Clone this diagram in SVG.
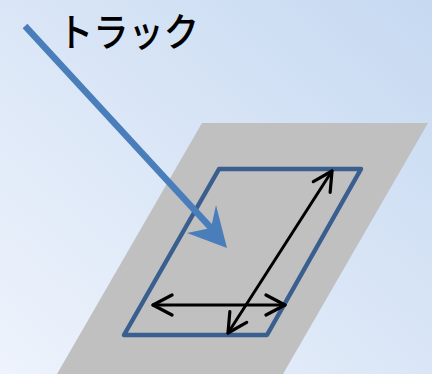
<svg xmlns="http://www.w3.org/2000/svg" width="432" height="374" viewBox="0 0 432 374">
<defs>
<linearGradient id="bg" x1="0" y1="1" x2="1" y2="0">
<stop offset="0" stop-color="#EEF3FC"/>
<stop offset="1" stop-color="#C6D9F1"/>
</linearGradient>
<marker id="open" viewBox="-22 -12 24 24" markerWidth="24" markerHeight="24" refX="0" refY="0" orient="auto-start-reverse" markerUnits="userSpaceOnUse">
<path d="M-19,-10 L0,0 L-19,10" fill="none" stroke="#000" stroke-width="3.2" stroke-linecap="round" stroke-linejoin="round"/>
</marker>
</defs>
<style>
.blk{stroke:#000;stroke-width:3;fill:none;stroke-linecap:round}
.lbl{font-family:"Noto Sans CJK JP","Noto Sans",sans-serif;font-size:39px;font-weight:500;fill:#000}
</style>
<rect width="432" height="374" fill="url(#bg)"/>
<g id="plane">
<polygon points="202,123 428,123 283,374 57,374" fill="#C0C0C0"/>
</g>
<g id="track-area">
<polygon points="219,169 361,169 267,335 124,335" fill="none" stroke="#3A5F8F" stroke-width="4.5" stroke-linejoin="round"/>
</g>
<g id="label">
<text class="lbl" x="58" y="46" textLength="141" lengthAdjust="spacingAndGlyphs">トラック</text>
</g>
<g id="connectors">
<line x1="25" y1="26" x2="212" y2="229" stroke="#4A7EBB" stroke-width="6.5"/>
<polygon points="227,248 216,205 211,228 187,233" fill="#4A7EBB"/>
<line class="blk" x1="153" y1="305" x2="285" y2="305" marker-start="url(#open)" marker-end="url(#open)"/>
<line class="blk" x1="228" y1="333" x2="332" y2="171" marker-start="url(#open)" marker-end="url(#open)"/>
</g>
</svg>
